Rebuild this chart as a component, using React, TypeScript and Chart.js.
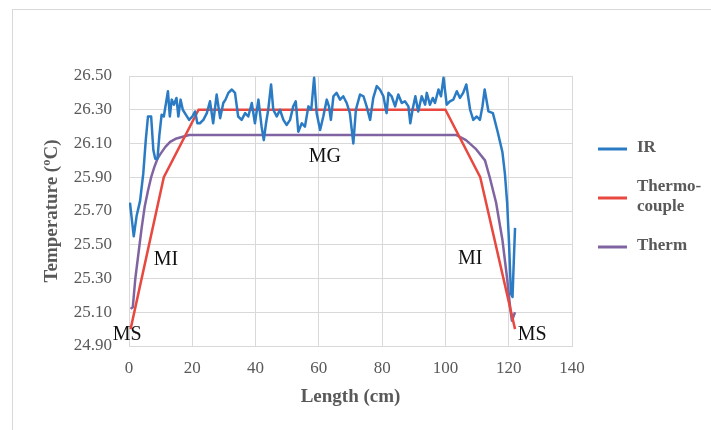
import React, { useEffect, useRef } from "react";
import { Chart, registerables } from "chart.js";

Chart.register(...registerables);

// ---- Data ----
const irLength = [
  0.3, 1.5, 2.4, 3.5, 4.5, 5.3, 6.0, 7.0, 7.7, 8.3, 9.0, 9.6, 10.3, 11.0, 11.7, 12.3, 12.9, 13.5, 14.2, 15.0,
  15.6, 16.3, 17.0, 18.0, 19.0, 20.0, 20.9, 21.6, 22.4, 23.5, 24.6, 25.6, 26.6, 27.7, 28.8, 29.8, 30.5, 31.4,
  32.5, 33.5, 34.5, 35.6, 36.7, 37.7, 38.8, 39.8, 40.9, 41.9, 42.6, 43.3, 44.0, 44.9, 45.6, 46.7, 47.7, 48.8,
  49.8, 50.9, 51.9, 52.7, 53.5, 54.6, 55.6, 56.7, 57.6, 58.5, 59.3, 60.4, 61.4, 62.5, 63.2, 63.8, 64.6, 65.6,
  66.7, 67.7, 68.8, 69.8, 70.9, 71.7, 73.0, 74.1, 75.1, 76.2, 77.2, 78.3, 79.3, 80.4, 81.4, 82.0, 83.0, 84.1,
  85.1, 86.2, 87.2, 88.3, 88.9, 89.6, 90.5, 91.4, 92.5, 93.6, 94.1, 95.1, 96.0, 96.7, 97.8, 98.6, 99.4, 100.4,
  101.4, 102.5, 103.6, 104.6, 105.6, 106.6, 107.8, 108.8, 109.9, 110.9, 111.7, 112.4, 113.6, 115.0, 116.5,
  118.0, 118.8, 119.5, 120.1, 120.7, 121.2, 121.6, 122.0,
];
const irTemp = [
  25.75, 25.55, 25.67, 25.76, 25.92, 26.12, 26.26, 26.26, 26.06, 26.01, 26.01, 26.15, 26.27, 26.26, 26.34, 26.41,
  26.26, 26.36, 26.33, 26.37, 26.26, 26.36, 26.30, 26.27, 26.24, 26.26, 26.29, 26.22, 26.22, 26.24, 26.28, 26.35,
  26.22, 26.39, 26.25, 26.34, 26.36, 26.40, 26.42, 26.40, 26.26, 26.24, 26.28, 26.26, 26.34, 26.22, 26.36, 26.20,
  26.12, 26.22, 26.30, 26.45, 26.30, 26.26, 26.30, 26.24, 26.21, 26.24, 26.32, 26.35, 26.17, 26.22, 26.20, 26.32,
  26.30, 26.49, 26.28, 26.18, 26.26, 26.36, 26.32, 26.24, 26.38, 26.40, 26.36, 26.38, 26.34, 26.28, 26.10, 26.30,
  26.39, 26.38, 26.32, 26.24, 26.37, 26.44, 26.42, 26.38, 26.28, 26.40, 26.38, 26.32, 26.39, 26.34, 26.35, 26.32,
  26.22, 26.30, 26.38, 26.29, 26.38, 26.33, 26.40, 26.33, 26.37, 26.34, 26.42, 26.38, 26.49, 26.33, 26.35, 26.36,
  26.41, 26.37, 26.40, 26.45, 26.30, 26.24, 26.26, 26.24, 26.32, 26.42, 26.29, 26.28, 26.17, 26.05, 25.92, 25.75,
  25.51, 25.21, 25.19, 25.40, 25.60,
];

const tcLength = [0.5, 11, 22, 100, 111, 122];
const tcTemp = [25.0, 25.9, 26.3, 26.3, 25.9, 25.0];

const thLength = [
  0.5, 1.2, 2, 3, 4, 5, 6, 7, 8, 9, 10, 11.5, 13, 15, 17, 19, 103.5, 106.5, 109.5, 112.5, 114, 116, 118, 119.5,
  120.5, 121, 122,
];
const thTemp = [
  25.12, 25.13, 25.3, 25.45, 25.6, 25.73, 25.82, 25.9, 25.96, 26.01, 26.04, 26.08, 26.11, 26.13, 26.14, 26.15,
  26.15, 26.12, 26.07, 26.0, 25.9, 25.75, 25.53, 25.3, 25.12, 25.05, 25.1,
];

const seriesNames: (string | string[])[] = ["IR", ["Thermo-", "couple"], "Therm"];
const seriesColors = ["#2a7bc4", "#e8483f", "#8064a2"];

const yTicks = [24.9, 25.1, 25.3, 25.5, 25.7, 25.9, 26.1, 26.3, 26.5];
const xTicks = [0, 20, 40, 60, 80, 100, 120, 140];

const zoneLabels = ["MS", "MI", "MG", "MI", "MS"];
const zoneLength = [-0.6, 11.7, 61.9, 107.8, 127.4];
const zoneTemp = [24.965, 25.41, 26.02, 25.42, 24.965];

const FONT = "'Liberation Serif', 'Times New Roman', serif";
const GRAY = "#595959";
const GRID = "#d9d9d9";

function pts(xs: number[], ys: number[]) {
  return xs.map((x, i) => ({ x, y: ys[i] }));
}

const overlayPlugin = {
  id: "overlay",
  beforeDraw(chart: any) {
    const ctx = chart.ctx;
    ctx.save();
    ctx.strokeStyle = GRID;
    ctx.lineWidth = 1;
    ctx.strokeRect(12.5, 9.5, 760, 460);
    ctx.restore();
  },
  afterDraw(chart: any) {
    const ctx = chart.ctx;
    const xs = chart.scales.x;
    const ys = chart.scales.y;
    ctx.save();
    // zone labels
    ctx.fillStyle = "#111";
    ctx.font = `20px ${FONT}`;
    ctx.textAlign = "center";
    ctx.textBaseline = "middle";
    zoneLabels.forEach((t, i) => {
      ctx.fillText(t, xs.getPixelForValue(zoneLength[i]), ys.getPixelForValue(zoneTemp[i]));
    });
    // legend
    const legendY = [149, 198, 247];
    ctx.font = `bold 17px ${FONT}`;
    ctx.textAlign = "left";
    seriesNames.forEach((name, i) => {
      ctx.strokeStyle = seriesColors[i];
      ctx.lineWidth = 3;
      ctx.beginPath();
      ctx.moveTo(598, legendY[i]);
      ctx.lineTo(627, legendY[i]);
      ctx.stroke();
      ctx.fillStyle = GRAY;
      const lines = Array.isArray(name) ? name : [name];
      const lh = 20;
      lines.forEach((l, j) => {
        ctx.fillText(l, 637, legendY[i] - ((lines.length - 1) * lh) / 2 + j * lh - 1);
      });
    });
    ctx.restore();
  },
};

export default function App() {
  const ref = useRef<HTMLCanvasElement | null>(null);
  useEffect(() => {
    if (!ref.current) return;
    const chart = new Chart(ref.current, {
      type: "line",
      data: {
        datasets: [
          {
            label: "IR",
            data: pts(irLength, irTemp),
            borderColor: seriesColors[0],
            borderWidth: 2.5,
            pointRadius: 0,
            tension: 0,
            borderJoinStyle: "round",
          },
          {
            label: "Thermo-couple",
            data: pts(tcLength, tcTemp),
            borderColor: seriesColors[1],
            borderWidth: 2.5,
            pointRadius: 0,
            tension: 0,
          },
          {
            label: "Therm",
            data: pts(thLength, thTemp),
            borderColor: seriesColors[2],
            borderWidth: 2.5,
            pointRadius: 0,
            tension: 0,
            borderJoinStyle: "round",
          },
        ],
      },
      options: {
        animation: false,
        responsive: false,
        devicePixelRatio: 1,
        layout: { padding: { top: 76, right: 139, bottom: 0, left: 0 } },
        plugins: { legend: { display: false }, tooltip: { enabled: false } },
        scales: {
          x: {
            type: "linear",
            min: 0,
            max: 140,
            afterBuildTicks: (s: any) => {
              s.ticks = xTicks.map((v) => ({ value: v }));
            },
            afterFit: (s: any) => {
              s.height = 84;
            },
            grid: { color: GRID, drawTicks: false },
            border: { display: true, color: GRID },
            ticks: { color: GRAY, font: { family: FONT, size: 17 }, padding: 12 },
            title: {
              display: true,
              text: "Length (cm)",
              color: GRAY,
              font: { family: FONT, size: 19, weight: "bold" },
              padding: { top: 0, bottom: 22 },
            },
          },
          y: {
            type: "linear",
            min: 24.9,
            max: 26.5,
            afterBuildTicks: (s: any) => {
              s.ticks = yTicks.map((v) => ({ value: v }));
            },
            afterFit: (s: any) => {
              s.width = 129;
            },
            grid: { color: GRID, drawTicks: false },
            border: { display: true, color: GRID },
            ticks: {
              color: GRAY,
              font: { family: FONT, size: 17 },
              padding: 17,
              callback: (v: any) => Number(v).toFixed(2),
            },
            title: {
              display: true,
              text: "Temperature (ºC)",
              color: GRAY,
              font: { family: FONT, size: 19, weight: "bold" },
              padding: { top: 41, bottom: 0 },
            },
          },
        },
      },
      plugins: [overlayPlugin],
    } as any);
    return () => chart.destroy();
  }, []);
  return (
    <div style={{ position: "absolute", left: 0, top: 0, width: 711, height: 430, background: "#fff" }}>
      <canvas ref={ref} width={711} height={430} style={{ display: "block", width: 711, height: 430 }} />
    </div>
  );
}
